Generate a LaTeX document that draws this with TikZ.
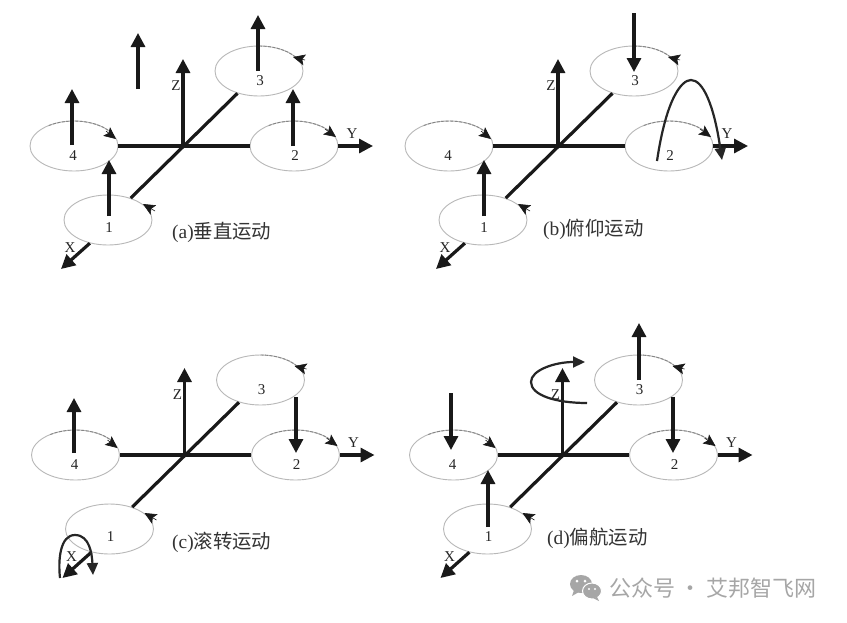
\documentclass[tikz,border=0pt]{standalone}
\usepackage{fontspec}
\setmainfont{Liberation Serif}
\newfontfamily\cjk{Noto Sans CJK SC}
\usetikzlibrary{arrows.meta,shapes.geometric}
\definecolor{wmgray}{HTML}{A6A6A6}
\tikzset{
  rotor/.style={draw=black!28,ellipse,line width=.9pt,minimum width=88pt,minimum height=50pt,inner sep=0pt},
  rotorarc/.style={draw=black!48,line width=.9pt,dash pattern=on 3pt off 1.5pt},
  arm/.style={line width=3.2pt,draw=black!90},
  axisarrow/.style={line width=3.2pt,draw=black!90,-{Triangle[width=14pt,length=14pt]}},
  thrust/.style={line width=3.2pt,draw=black!90,-{Triangle[width=14pt,length=14pt]}},
  spin/.style={line width=.6pt,-{Stealth[width=11pt,length=12pt,inset=2.5pt]},black!90},
  motion/.style={line width=2.2pt,black!85,-{Triangle[width=11pt,length=12pt]}},
  digit/.style={font=\fontsize{15}{15}\selectfont,text=black!85,inner sep=0pt},
  axlabel/.style={font=\fontsize{15}{15}\selectfont,text=black!85,inner sep=0pt},
  caption/.style={font=\fontsize{19.4}{20}\selectfont,text=black!80,inner sep=0pt,anchor=west},
}
\newcommand{\panel}[3]{%
  \begin{scope}[shift={(#2,#3)}]
    \node[rotor] (#1r4) at (74,146) {};
    \node[rotor] (#1r2) at (294,146) {};
    \node[rotor] (#1r3) at (259,71) {};
    \node[rotor] (#1r1) at (108,220) {};
    \draw[rotorarc] (#1r4.center) ++(-125:44 and 25) arc[start angle=-125,end angle=-25,x radius=44,y radius=25];
    \draw[rotorarc] (#1r2.center) ++(-125:44 and 25) arc[start angle=-125,end angle=-25,x radius=44,y radius=25];
    \draw[rotorarc] (#1r3.center) ++(-90:44 and 25) arc[start angle=-90,end angle=-25,x radius=44,y radius=25];
    \coordinate (#1o) at (183,146);
    \coordinate (#1ze) at (183,59);
    \coordinate (#1ye) at (373,146);
    \coordinate (#1xe) at (61,269);
    \draw[arm] (#1r4.east) -- (#1r2.west);
    \draw[arm] (#1r1.44) -- (#1r3.226);
    \draw[axisarrow] (#1o) -- (#1ze);
    \draw[axisarrow] (#1r2.east) -- (#1ye);
    \draw[axisarrow] (#1r1.232) -- (#1xe);
    \coordinate (#1s4a) at (106,131); \coordinate (#1s4b) at (116,139);
    \coordinate (#1s2a) at (325,129); \coordinate (#1s2b) at (336,137);
    \coordinate (#1s3a) at (305,60);  \coordinate (#1s3b) at (293,57);
    \coordinate (#1s1a) at (155,211); \coordinate (#1s1b) at (143,204);
    \draw[spin] (#1s4a) -- (#1s4b);
    \draw[spin] (#1s2a) -- (#1s2b);
    \draw[spin] (#1s3a) -- (#1s3b);
    \draw[spin] (#1s1a) -- (#1s1b);
    \node[digit] (#1n4) at (73,156) {4};
    \node[digit] (#1n2) at (295,156) {2};
    \node[digit] (#1n3) at (260,81) {3};
    \node[digit] (#1n1) at (109,228) {1};
    \node[axlabel] (#1lz) at (176,86) {Z};
    \node[axlabel] (#1ly) at (352,134) {Y};
    \node[axlabel] (#1lx) at (70,248) {X};
  \end{scope}}
\newcommand{\lift}[5]{%
  \coordinate (#1s) at (#2,#3);
  \coordinate (#1t) at (#4,#5);
  \draw[thrust] (#1s) -- (#1t);}
\begin{document}
\begin{tikzpicture}[x=1pt,y=-1pt]
\useasboundingbox[fill=white] (0,0) rectangle (847,622);
% panel a
\panel{a}{0}{0}
\lift{af}{138}{89}{138}{33}
\lift{a3}{258}{71}{258}{15}
\lift{a2}{293}{146}{293}{89}
\lift{a4}{72}{145}{72}{89}
\lift{a1}{109}{216}{109}{160}
\node[caption] (acap) at (172,232) {(a){\cjk 垂直运动}};
% panel b
\panel{b}{375}{0}
\lift{b3}{634}{13}{634}{72}
\lift{b1}{484}{216}{484}{160}
\coordinate (bcs) at (657,161);
\coordinate (bct) at (722,160);
\draw[motion] (bcs) .. controls (666,100) and (681,80) .. (691,80) .. controls (703,80) and (714,105) .. (bct);
\node[caption] (bcap) at (543,229) {(b){\cjk 俯仰运动}};
% panel c
\panel{c}{1.5}{309}
\lift{c4}{74}{453}{74}{398}
\lift{c2}{296}{397}{296}{453}
\coordinate (ccs) at (60,578);
\coordinate (cct) at (93,575);
\draw[motion] (ccs) .. controls (58,560) and (60,535) .. (75,535) .. controls (90,535) and (92,555) .. (cct);
\node[caption] (ccap) at (172,542) {(c){\cjk 滚转运动}};
% panel d
\panel{d}{379.5}{309}
\lift{d4}{451}{393}{451}{450}
\lift{d1}{488}{527}{488}{470}
\lift{d3}{639}{380}{639}{323}
\lift{d2}{673}{397}{673}{453}
\coordinate (dcs) at (587,403);
\coordinate (dct) at (585,362);
\draw[motion] (dcs) .. controls (555,403) and (531,395) .. (531,382) .. controls (531,370) and (555,362) .. (dct);
\node[caption] (dcap) at (547,538) {(d){\cjk 偏航运动}};
% watermark
\fill[wmgray] (581,584) ellipse[x radius=11,y radius=9];
\fill[wmgray] (574,590) -- (572,596) -- (579,592) -- cycle;
\fill[wmgray,draw=white,line width=1pt] (592,591) ellipse[x radius=9.5,y radius=8];
\fill[wmgray] (597,597) -- (599,601) -- (593,598) -- cycle;
\fill[white] (577,581) circle[radius=1.5] (585,581) circle[radius=1.5]
             (589,589) circle[radius=1.2] (595,589) circle[radius=1.2];
\node[font=\cjk\fontsize{22}{22}\selectfont,text=wmgray,inner sep=0pt] (wm) at (713,588) {公众号 · 艾邦智飞网};
\end{tikzpicture}
\end{document}
